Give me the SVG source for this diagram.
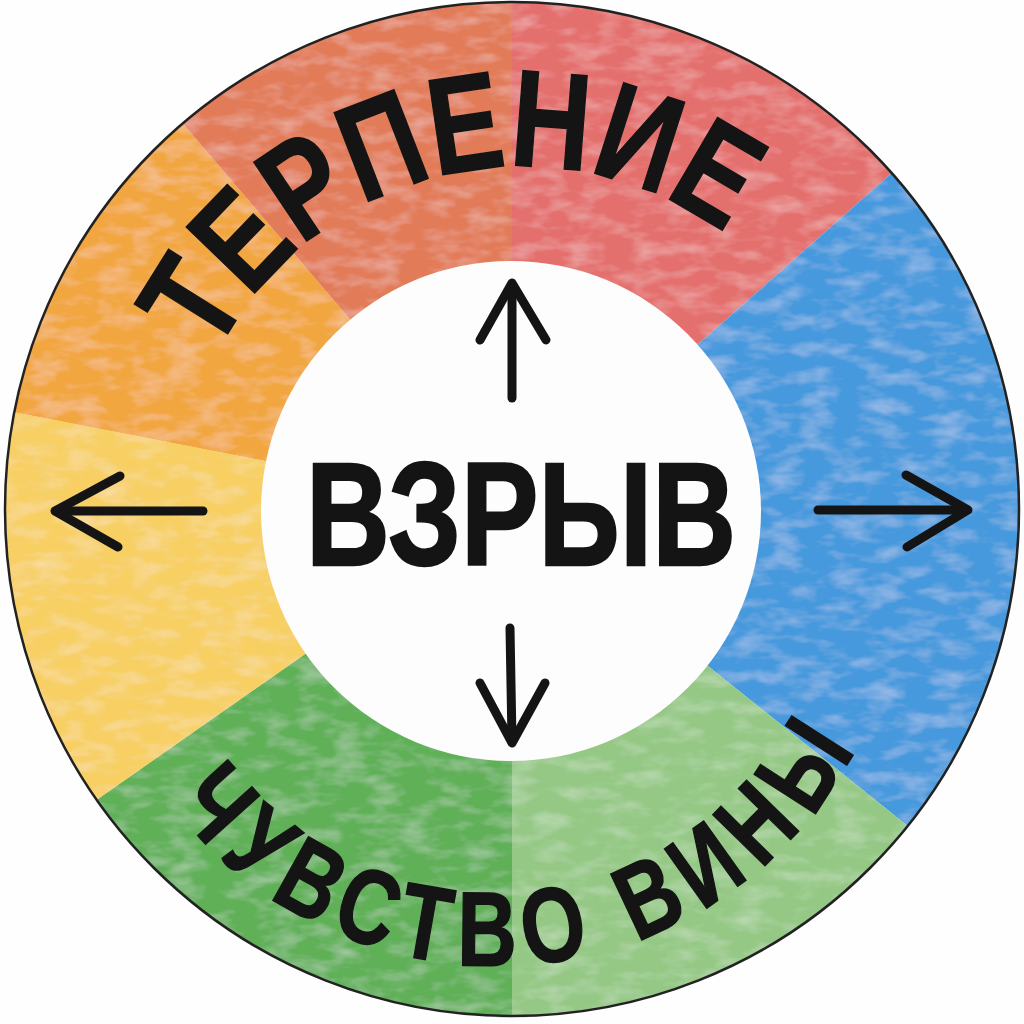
<svg xmlns="http://www.w3.org/2000/svg" xmlns:xlink="http://www.w3.org/1999/xlink" width="1024" height="1024" viewBox="0 0 1024 1024">
  <style>
    .seg { stroke: none; }
    .ringtxt { font-family: "Liberation Sans", Arial, sans-serif; font-weight: bold; fill: #141414; stroke: #141414; stroke-width: 1.5; }
    .center { font-family: "Liberation Sans", Arial, sans-serif; font-weight: bold; fill: #141414; stroke: #141414; stroke-width: 2.5; }
    .arrow { fill: none; stroke: #141414; stroke-width: 9; stroke-linecap: round; stroke-linejoin: round; }
  </style>
  <defs>
    <path id="topArc" d="M215.3,356.3 A342,342 0 0 1 724.8,234.0"/>
    <path id="bottomArc" d="M171.8,804.3 A406,406 0 0 0 860.3,739.2"/>
    <filter id="wash" x="0" y="0" width="100%" height="100%">
      <feTurbulence type="fractalNoise" baseFrequency="0.03 0.07" numOctaves="3" seed="7" result="n"/>
      <feColorMatrix in="n" type="matrix" values="0 0 0 0 1  0 0 0 0 1  0 0 0 0 1  0 0 0 -0.5 0.28" result="w"/>
      <feComposite in="w" in2="SourceGraphic" operator="atop"/>
    </filter>
  </defs>
  <rect x="0" y="0" width="1024" height="1024" fill="#fefefe"/>

  <g id="ring">
    <g filter="url(#wash)">
      <path id="seg-red" class="seg" fill="#e4706e" d="M512,509 L512,2 A507,507 0 0 1 891.7,173.1 Z"/>
      <path id="seg-blue" class="seg" fill="#4699dd" d="M512,509 L891.7,173.1 A507,507 0 0 1 907.7,826.0 Z"/>
      <path id="seg-lightgreen" class="seg" fill="#94c884" d="M512,509 L907.7,826.0 A507,507 0 0 1 512,1016 Z"/>
      <path id="seg-green" class="seg" fill="#60b059" d="M512,509 L512,1016 A507,507 0 0 1 96.7,799.8 Z"/>
      <path id="seg-yellow" class="seg" fill="#f7cf64" d="M512,509 L96.7,799.8 A507,507 0 0 1 14.3,412.3 Z"/>
      <path id="seg-orange" class="seg" fill="#f2a640" d="M512,509 L14.3,412.3 A507,507 0 0 1 182.7,123.5 Z"/>
      <path id="seg-orangered" class="seg" fill="#e27b58" d="M512,509 L182.7,123.5 A507,507 0 0 1 512,2 Z"/>
    </g>
    <circle cx="512" cy="509" r="507" fill="none" stroke="#222" stroke-width="2.5"/>
  </g>

  <g id="label-terpenie">
    <text class="ringtxt" font-size="138"><textPath xlink:href="#topArc" href="#topArc" textLength="597" lengthAdjust="spacingAndGlyphs">ТЕРПЕНИЕ</textPath></text>
  </g>
  <g id="label-vina">
    <text class="ringtxt" font-size="106" letter-spacing="16" stroke-width="1"><textPath xlink:href="#bottomArc" href="#bottomArc" textLength="828" lengthAdjust="spacingAndGlyphs">ЧУВСТВО ВИНЫ</textPath></text>
  </g>

  <g id="node-vzryv">
    <circle cx="511" cy="511" r="250" fill="#fdfdfd"/>
    <text class="center" x="306" y="565" font-size="146" textLength="430" lengthAdjust="spacingAndGlyphs">ВЗРЫВ</text>
  </g>

  <g id="connectors">
    <g id="arrow-up">
      <line class="arrow" x1="512" y1="398" x2="512" y2="285"/>
      <polyline class="arrow" points="480,340 512,283 546,340"/>
    </g>
    <g id="arrow-down">
      <line class="arrow" x1="510" y1="628" x2="512" y2="741"/>
      <polyline class="arrow" points="480,683 512,743 545,683"/>
    </g>
    <g id="arrow-left">
      <line class="arrow" x1="203" y1="511" x2="57" y2="511"/>
      <polyline class="arrow" points="120,476 55,511 118,547"/>
    </g>
    <g id="arrow-right">
      <line class="arrow" x1="818" y1="510" x2="966" y2="510"/>
      <polyline class="arrow" points="906,475 968,510 907,547"/>
    </g>
  </g>
</svg>
